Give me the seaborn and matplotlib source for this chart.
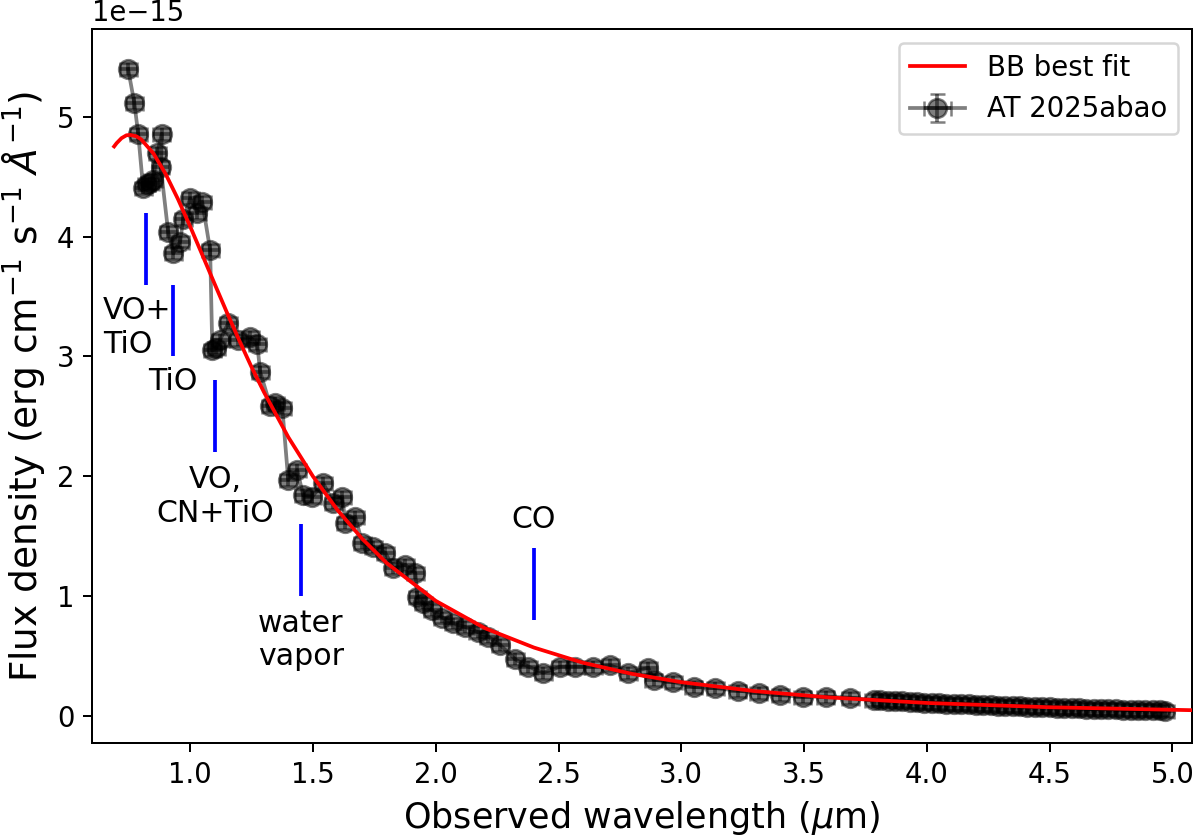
import numpy as np
import matplotlib
matplotlib.use("Agg")
import matplotlib.pyplot as plt
import seaborn as sns

# flux in units of 1e-15 erg/cm2/s/A
SCALE = 1e-15

wave = [0.747, 0.772, 0.788, 0.808, 0.822, 0.836, 0.848, 0.866, 0.884, 0.880,
        0.910, 0.931, 0.959, 0.971, 1.000, 1.029, 1.049, 1.081, 1.090, 1.106,
        1.122, 1.155, 1.196, 1.244, 1.273, 1.285, 1.326, 1.346, 1.375, 1.399,
        1.436, 1.460, 1.497, 1.542, 1.583, 1.619, 1.632, 1.672, 1.701, 1.746,
        1.795, 1.827, 1.876, 1.917, 1.925, 1.949, 1.986, 2.027, 2.072, 2.121,
        2.170, 2.214, 2.263, 2.324, 2.377, 2.438, 2.508, 2.569, 2.642, 2.711,
        2.785, 2.866, 2.887, 2.968, 3.050, 3.139, 3.229, 3.315, 3.404, 3.494,
        3.588, 3.689, 3.783, 3.81, 3.84, 3.87, 3.90, 3.93, 3.96, 3.99,
        4.02, 4.05, 4.08, 4.11, 4.14, 4.17, 4.20, 4.23, 4.26, 4.29,
        4.32, 4.35, 4.38, 4.41, 4.44, 4.47, 4.50, 4.53, 4.56, 4.59,
        4.62, 4.65, 4.68, 4.71, 4.74, 4.77, 4.80, 4.83, 4.86, 4.89,
        4.92, 4.95, 4.97]

flux = [5.40, 5.12, 4.86, 4.41, 4.44, 4.45, 4.47, 4.70, 4.86, 4.58,
        4.04, 3.86, 3.96, 4.15, 4.32, 4.20, 4.29, 3.89, 3.05, 3.07,
        3.14, 3.28, 3.14, 3.16, 3.10, 2.87, 2.59, 2.61, 2.57, 1.97,
        2.05, 1.84, 1.83, 1.94, 1.78, 1.83, 1.61, 1.66, 1.44, 1.41,
        1.36, 1.23, 1.26, 1.19, 0.99, 0.94, 0.88, 0.82, 0.77, 0.74,
        0.70, 0.66, 0.59, 0.47, 0.41, 0.36, 0.41, 0.41, 0.41, 0.42,
        0.36, 0.40, 0.30, 0.28, 0.24, 0.23, 0.21, 0.19, 0.17, 0.16,
        0.16, 0.15, 0.13, 0.128, 0.126, 0.122, 0.121, 0.116, 0.114, 0.109,
        0.107, 0.104, 0.101, 0.099, 0.096, 0.094, 0.090, 0.089, 0.086, 0.084,
        0.081, 0.080, 0.077, 0.076, 0.073, 0.071, 0.069, 0.068, 0.065, 0.062,
        0.062, 0.058, 0.057, 0.056, 0.053, 0.052, 0.050, 0.049, 0.047, 0.046,
        0.044, 0.046, 0.043]

wave_err = 0.035
flux_err = 0.05

# blackbody best-fit curve
bb_wave = [0.69, 0.70, 0.72, 0.74, 0.755, 0.78, 0.80, 0.85, 0.90, 0.95, 1.0,
           1.05, 1.1, 1.15, 1.2, 1.25, 1.3, 1.4, 1.5, 1.6, 1.7, 1.8, 2.0, 2.2,
           2.4, 2.6, 2.8, 3.0, 3.3, 3.6, 4.0, 4.5, 5.1]
bb_flux = [4.754, 4.781, 4.823, 4.847, 4.850, 4.839, 4.813, 4.696, 4.523,
           4.314, 4.084, 3.844, 3.603, 3.364, 3.132, 2.910, 2.703, 2.324,
           1.998, 1.717, 1.478, 1.275, 0.959, 0.731, 0.569, 0.442, 0.349,
           0.280, 0.205, 0.153, 0.1065, 0.0706, 0.0452]

# absorption features
feat_names = ["VO+\nTiO", "TiO", "VO,\nCN+TiO", "water\nvapor", "CO"]
feat_x = [0.82, 0.93, 1.10, 1.45, 2.40]
feat_ylo = [3.6, 3.0, 2.2, 1.0, 0.8]
feat_yhi = [4.2, 3.6, 2.8, 1.6, 1.4]
text_x = [0.645, 0.93, 1.10, 1.45, 2.40]
text_y = [3.03, 2.72, 1.62, 0.42, 1.57]
text_ha = ["left", "center", "center", "center", "center"]

plt.rcParams["font.size"] = 11

fig, ax = plt.subplots(figsize=(1200 / 180, 837 / 180), dpi=180)
fig.subplots_adjust(left=0.0767, right=0.9933, bottom=0.1123, top=0.9654)

sns.lineplot(x=np.array(bb_wave), y=np.array(bb_flux) * SCALE, color="red",
             label="BB best fit", ax=ax, zorder=3)

ax.errorbar(wave, np.array(flux) * SCALE, xerr=wave_err, yerr=flux_err * SCALE,
            fmt="o-", color="k", alpha=0.5, ms=7.5, capsize=3,
            label="AT 2025abao", zorder=2)

for i in range(len(feat_names)):
    ax.vlines(feat_x[i], feat_ylo[i] * SCALE, feat_yhi[i] * SCALE,
              color="blue", lw=1.5)
    ax.text(text_x[i], text_y[i] * SCALE, feat_names[i], fontsize=12,
            ha=text_ha[i], va="baseline")

ax.set_xlim(0.60, 5.08)
ax.set_ylim(-0.228 * SCALE, 5.735 * SCALE)
ax.set_xlabel(r"Observed wavelength ($\mu$m)", fontsize=14)
ax.set_ylabel(r"Flux density (erg cm$^{-1}$ s$^{-1}$ $\AA^{-1}$)", fontsize=15)
ax.legend(loc="upper right", fontsize=11)

fig.savefig("out.png", dpi=180)
